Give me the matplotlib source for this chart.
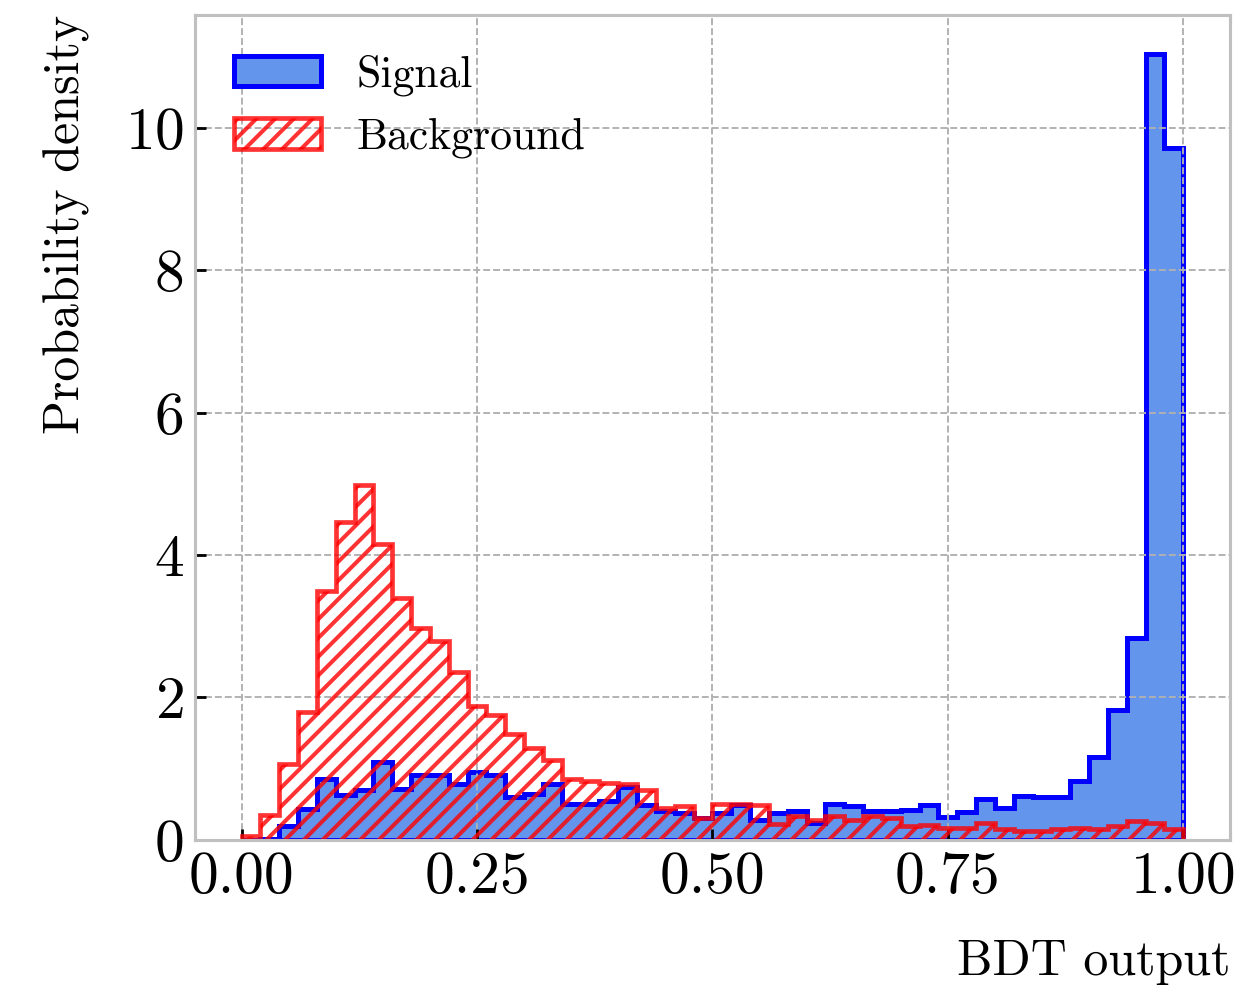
import numpy as np
import matplotlib
matplotlib.use("Agg")
import matplotlib.pyplot as plt

bin_edges = np.linspace(0.0, 1.0, 51)

signal_density = [
    0.00, 0.01, 0.19, 0.43, 0.86, 0.63, 0.70, 1.09, 0.72, 0.91,
    0.91, 0.79, 0.95, 0.91, 0.60, 0.64, 0.79, 0.51, 0.50, 0.54,
    0.74, 0.49, 0.41, 0.37, 0.30, 0.37, 0.49, 0.28, 0.37, 0.40,
    0.23, 0.50, 0.47, 0.40, 0.40, 0.42, 0.49, 0.32, 0.39, 0.58,
    0.45, 0.61, 0.60, 0.60, 0.83, 1.16, 1.82, 2.83, 11.04, 9.72,
]

background_density = [
    0.06, 0.35, 1.07, 1.79, 3.49, 4.47, 4.99, 4.15, 3.40, 2.98,
    2.80, 2.36, 1.88, 1.76, 1.49, 1.29, 1.12, 0.86, 0.83, 0.80,
    0.79, 0.70, 0.44, 0.48, 0.30, 0.51, 0.51, 0.49, 0.22, 0.33,
    0.28, 0.33, 0.28, 0.34, 0.31, 0.19, 0.21, 0.16, 0.16, 0.23,
    0.15, 0.13, 0.12, 0.15, 0.17, 0.15, 0.19, 0.26, 0.23, 0.15,
]

x_ticks = [0.00, 0.25, 0.50, 0.75, 1.00]
y_ticks = [0, 2, 4, 6, 8, 10]

plt.rcParams['font.family'] = 'serif'
plt.rcParams['font.serif'] = ['cmr10']
plt.rcParams['mathtext.fontset'] = 'cm'
plt.rcParams['axes.formatter.use_mathtext'] = True
plt.rcParams['hatch.linewidth'] = 1.3

DPI = 225
fig = plt.figure(figsize=(1239 / DPI, 988 / DPI), dpi=DPI)
ax = fig.add_axes([0.157, 0.150, 0.836, 0.835])

centers = 0.5 * (bin_edges[:-1] + bin_edges[1:])

ax.hist(centers, bins=bin_edges, weights=signal_density, histtype='stepfilled',
        facecolor='cornflowerblue', edgecolor='blue', linewidth=1.6, label='Signal')
ax.hist(centers, bins=bin_edges, weights=background_density, histtype='step',
        color='red', alpha=0.8, hatch='////', linewidth=1.5, label='Background')

ax.set_xticks(x_ticks)
ax.set_xticklabels([f"{v:.2f}" for v in x_ticks])
ax.set_yticks(y_ticks)

ax.tick_params(axis='both', which='major', direction='in', length=3.5, width=0.9,
               labelsize=19, top=False, right=False, color='black')
ax.grid(True, linestyle='--', color='#b0b0b0', linewidth=0.6)

for s in ax.spines.values():
    s.set_color('#c0c0c0')
    s.set_linewidth(1.0)

ax.set_xlabel('BDT output', fontsize=16, loc='right', labelpad=11)
ax.set_ylabel('Probability density', fontsize=16, loc='top', labelpad=11)

ax.legend(loc='upper left', frameon=False, fontsize=14)

fig.savefig('out.png', dpi=DPI)
